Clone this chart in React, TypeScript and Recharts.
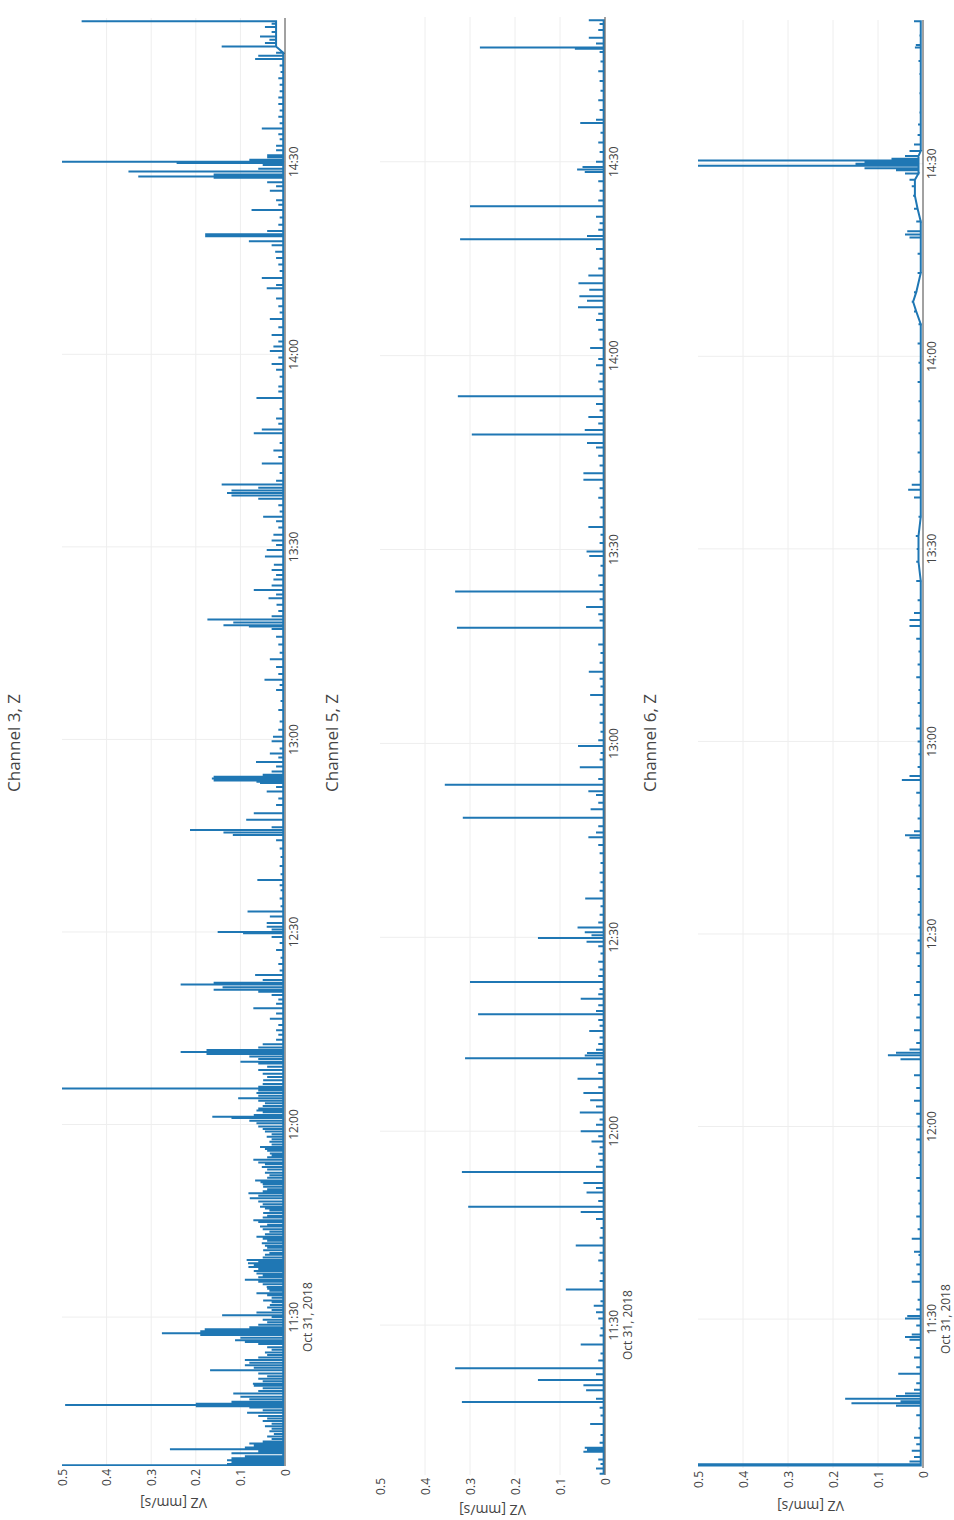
import { LineChart, Line, XAxis, YAxis, CartesianGrid, Label } from "recharts"

// the reference is a plotly page turned on its side; charts are drawn upright and rotated
const FONT = '"Open Sans", verdana, arial, sans-serif'
const PAGE_W = 954
const PAGE_H = 1520
const PANEL_H = 318
const PLOT_TOP = 62

// minutes after 11:00
const timeTicks = [30, 60, 90, 120, 150, 180, 210]
const valueTicks = [0, 0.1, 0.2, 0.3, 0.4, 0.5]
const gridValues = [0.1, 0.2, 0.3, 0.4]
const timeRange: [number, number] = [6.8, 232.4]
const dateLabel = "Oct 31, 2018"
const yTitle = "VZ [mm/s]"
const titles = ["Channel 3, Z", "Channel 5, Z", "Channel 6, Z"]

// [minute, peak mm/s]
const ch3Spikes = [
    [6.9, 0.5], [7.1, 0.13], [7.4, 0.12], [7.7, 0.13], [8.0, 0.12], [8.3, 0.09], [8.8, 0.12], [9.1, 0.06], [9.4, 0.258], [9.7, 0.09],
    [10.0, 0.07], [10.3, 0.08], [10.6, 0.05], [11.0, 0.03], [11.4, 0.04], [11.8, 0.025], [12.2, 0.035], [12.6, 0.03], [13.0, 0.045], [13.4, 0.03],
    [13.8, 0.05], [14.2, 0.04], [14.6, 0.06], [15.1, 0.085], [15.5, 0.05], [15.9, 0.08], [16.1, 0.2], [16.3, 0.493], [16.5, 0.2], [16.8, 0.12],
    [17.2, 0.08], [17.6, 0.1], [18.1, 0.116], [18.5, 0.06], [18.9, 0.05], [19.3, 0.07], [19.6, 0.072], [20.0, 0.05], [20.4, 0.06], [20.8, 0.04],
    [21.2, 0.06], [21.7, 0.168], [22.1, 0.07], [22.5, 0.09], [22.9, 0.08], [23.3, 0.09], [23.7, 0.06], [24.1, 0.04], [24.5, 0.045], [24.9, 0.03],
    [25.3, 0.04], [25.8, 0.06], [26.1, 0.09], [26.4, 0.112], [26.8, 0.1], [27.2, 0.19], [27.5, 0.276], [27.8, 0.19], [28.1, 0.18], [28.4, 0.08],
    [28.8, 0.06], [29.2, 0.04], [29.6, 0.05], [30.0, 0.03], [30.3, 0.141], [30.7, 0.064], [31.1, 0.03], [31.5, 0.04], [31.9, 0.034], [32.3, 0.03],
    [32.6, 0.049], [33.0, 0.03], [33.4, 0.04], [33.7, 0.064], [34.1, 0.035], [34.4, 0.04], [34.7, 0.041], [35.1, 0.05], [35.5, 0.06], [35.8, 0.09],
    [36.2, 0.06], [36.5, 0.05], [36.8, 0.064], [37.2, 0.07], [37.5, 0.06], [37.8, 0.082], [38.1, 0.07], [38.4, 0.083], [38.7, 0.06], [38.9, 0.086],
    [39.3, 0.05], [39.7, 0.045], [40.0, 0.035], [40.4, 0.049], [40.8, 0.04], [41.1, 0.045], [41.5, 0.052], [41.9, 0.04], [42.2, 0.05], [42.5, 0.064],
    [42.9, 0.045], [43.3, 0.035], [43.7, 0.05], [44.1, 0.056], [44.4, 0.04], [44.8, 0.06], [45.1, 0.071], [45.5, 0.05], [45.8, 0.04], [46.2, 0.049],
    [46.6, 0.035], [46.9, 0.045], [47.2, 0.056], [47.6, 0.05], [48.0, 0.06], [48.5, 0.079], [48.9, 0.06], [49.3, 0.082], [49.6, 0.05], [49.9, 0.04],
    [50.3, 0.049], [50.7, 0.05], [51.0, 0.055], [51.3, 0.067], [51.7, 0.04], [52.1, 0.035], [52.5, 0.045], [53.0, 0.04], [53.4, 0.052], [53.8, 0.045],
    [54.1, 0.06], [54.5, 0.071], [54.9, 0.04], [55.2, 0.03], [55.5, 0.034], [55.9, 0.04], [56.2, 0.045], [56.5, 0.056], [56.9, 0.03], [57.3, 0.035],
    [57.7, 0.03], [58.1, 0.041], [58.5, 0.03], [58.9, 0.045], [59.3, 0.05], [59.7, 0.06], [60.2, 0.064], [60.6, 0.08], [61.0, 0.12], [61.2, 0.163],
    [61.5, 0.07], [61.9, 0.05], [62.2, 0.064], [62.5, 0.06], [62.9, 0.05], [63.3, 0.045], [63.7, 0.06], [64.1, 0.105], [64.5, 0.06], [64.9, 0.064],
    [65.3, 0.06], [65.6, 0.5], [65.9, 0.06], [66.3, 0.05], [66.9, 0.049], [67.4, 0.04], [67.9, 0.05], [68.5, 0.06], [69.0, 0.04], [69.5, 0.06],
    [69.8, 0.1], [70.2, 0.06], [70.6, 0.08], [71.0, 0.176], [71.3, 0.234], [71.6, 0.176], [72.0, 0.06], [72.5, 0.05], [73.2, 0.02], [74.0, 0.015],
    [74.7, 0.02], [75.5, 0.015], [76.5, 0.034], [77.3, 0.02], [78.1, 0.071], [78.8, 0.02], [79.5, 0.015], [80.2, 0.03], [80.7, 0.06], [81.0, 0.16],
    [81.4, 0.14], [81.8, 0.234], [82.1, 0.16], [82.5, 0.05], [83.3, 0.067], [84.0, 0.012], [85.0, 0.015], [86.0, 0.01], [87.2, 0.02], [88.3, 0.012],
    [89.2, 0.03], [89.8, 0.094], [90.0, 0.151], [90.4, 0.03], [90.8, 0.041], [91.4, 0.041], [92.4, 0.034], [93.2, 0.084], [94.0, 0.01], [95.2, 0.012],
    [96.5, 0.01], [97.3, 0.012], [98.1, 0.062], [99.0, 0.01], [100.3, 0.012], [101.7, 0.01], [103.0, 0.012], [104.3, 0.02], [105.1, 0.117], [105.5, 0.138],
    [105.9, 0.213], [106.3, 0.03], [107.5, 0.087], [108.5, 0.07], [109.8, 0.02], [110.8, 0.015], [111.9, 0.041], [112.6, 0.02], [113.2, 0.056], [113.4, 0.064],
    [113.6, 0.16], [113.9, 0.164], [114.2, 0.16], [114.5, 0.05], [115.0, 0.03], [115.8, 0.02], [116.5, 0.065], [117.2, 0.015], [117.8, 0.034], [118.6, 0.012],
    [119.7, 0.03], [120.4, 0.027], [121.5, 0.015], [122.8, 0.012], [124.6, 0.015], [126.0, 0.01], [127.7, 0.02], [128.5, 0.012], [129.3, 0.046], [130.2, 0.015],
    [131.3, 0.02], [132.5, 0.034], [133.5, 0.012], [134.8, 0.015], [136.0, 0.02], [137.2, 0.03], [137.6, 0.081], [137.8, 0.138], [138.2, 0.116], [138.7, 0.174],
    [139.2, 0.03], [140.0, 0.015], [141.0, 0.019], [142.0, 0.037], [142.6, 0.02], [143.3, 0.07], [144.0, 0.03], [144.9, 0.026], [145.6, 0.02], [146.4, 0.03],
    [147.2, 0.025], [148.5, 0.045], [149.5, 0.041], [150.3, 0.02], [151.0, 0.03], [151.9, 0.026], [153.0, 0.015], [154.0, 0.02], [154.7, 0.049], [155.5, 0.012],
    [156.5, 0.015], [157.5, 0.06], [158.0, 0.12], [158.4, 0.13], [158.8, 0.12], [159.2, 0.06], [159.7, 0.142], [160.3, 0.02], [161.5, 0.012], [163.0, 0.052],
    [164.0, 0.015], [165.0, 0.026], [166.2, 0.012], [167.7, 0.07], [168.3, 0.052], [169.2, 0.015], [170.0, 0.02], [171.5, 0.012], [173.2, 0.064], [174.2, 0.015],
    [175.0, 0.015], [176.5, 0.012], [177.6, 0.02], [178.5, 0.03], [179.5, 0.015], [180.5, 0.034], [181.2, 0.026], [182.0, 0.015], [183.0, 0.03], [184.2, 0.015],
    [185.5, 0.034], [186.5, 0.012], [187.5, 0.015], [188.7, 0.02], [190.3, 0.041], [190.8, 0.02], [191.9, 0.052], [193.0, 0.012], [194.0, 0.015], [195.0, 0.02],
    [196.0, 0.022], [197.0, 0.03], [197.6, 0.081], [198.4, 0.179], [198.7, 0.179], [199.2, 0.04], [200.2, 0.015], [201.3, 0.012], [202.5, 0.075], [203.3, 0.015],
    [204.0, 0.02], [205.5, 0.034], [206.2, 0.02], [206.8, 0.04], [207.5, 0.16], [207.7, 0.329], [208.0, 0.16], [208.5, 0.351], [208.9, 0.06], [209.5, 0.05],
    [209.8, 0.243], [210.0, 0.5], [210.3, 0.08], [210.7, 0.04], [211.0, 0.04], [211.8, 0.02], [212.5, 0.02], [213.5, 0.012], [214.3, 0.015], [215.2, 0.052],
    [216.0, 0.012], [217.0, 0.015], [218.0, 0.012], [219.0, 0.015], [220.0, 0.015], [221.0, 0.012], [222.0, 0.012], [223.0, 0.015], [224.0, 0.01], [225.0, 0.012],
    [226.0, 0.067], [226.5, 0.06], [227.0, 0.02], [227.96, 0.142], [228.5, 0.045], [229.0, 0.035], [229.5, 0.056], [230.2, 0.03], [231.0, 0.045], [231.5, 0.03],
    [231.9, 0.456],
]
// [from minute, resting level]
const ch3Floor = [[0, 0.004], [227.8, 0.02]]

const ch5Spikes = [
    [7.0, 0.012], [7.8, 0.02], [8.5, 0.01], [9.2, 0.015], [10.4, 0.048], [10.7, 0.04], [11.0, 0.045], [11.8, 0.012], [13.0, 0.01], [14.7, 0.033],
    [16.0, 0.01], [17.2, 0.012], [18.1, 0.318], [18.6, 0.02], [19.9, 0.042], [20.7, 0.048], [21.5, 0.149], [22.4, 0.02], [23.3, 0.333], [24.5, 0.015],
    [25.6, 0.01], [27.0, 0.054], [28.4, 0.012], [29.5, 0.01], [31.0, 0.015], [32.0, 0.02], [33.0, 0.025], [33.7, 0.01], [35.5, 0.087], [36.8, 0.012],
    [38.0, 0.01], [40.0, 0.015], [41.2, 0.012], [42.3, 0.065], [43.5, 0.012], [45.0, 0.01], [46.4, 0.02], [47.5, 0.054], [48.3, 0.304], [49.2, 0.015],
    [50.5, 0.041], [51.2, 0.02], [52.0, 0.048], [53.7, 0.318], [54.5, 0.02], [55.5, 0.012], [56.5, 0.015], [57.5, 0.012], [58.4, 0.03], [59.2, 0.015],
    [60.0, 0.054], [61.0, 0.02], [61.8, 0.012], [62.9, 0.056], [63.8, 0.02], [64.8, 0.033], [65.9, 0.048], [66.8, 0.015], [68.1, 0.061], [69.0, 0.015],
    [70.3, 0.02], [71.3, 0.311], [71.7, 0.045], [72.1, 0.04], [72.6, 0.02], [73.5, 0.015], [74.5, 0.012], [75.5, 0.035], [76.3, 0.012], [77.2, 0.015],
    [78.1, 0.282], [78.6, 0.02], [79.5, 0.015], [80.5, 0.054], [81.2, 0.015], [82.0, 0.012], [83.1, 0.3], [84.0, 0.015], [85.0, 0.012], [86.2, 0.015],
    [87.5, 0.01], [88.6, 0.015], [89.3, 0.041], [89.9, 0.149], [90.3, 0.03], [90.8, 0.045], [91.5, 0.061], [92.3, 0.015], [93.5, 0.012], [94.8, 0.01],
    [96.0, 0.044], [97.2, 0.012], [98.5, 0.01], [100.0, 0.012], [101.5, 0.01], [103.0, 0.012], [104.3, 0.015], [105.5, 0.037], [106.2, 0.02], [107.2, 0.015],
    [108.5, 0.316], [109.8, 0.032], [110.8, 0.015], [112.0, 0.02], [112.6, 0.037], [113.6, 0.356], [114.5, 0.015], [116.3, 0.056], [117.5, 0.012], [118.5, 0.01],
    [119.6, 0.06], [120.5, 0.015], [121.8, 0.01], [123.2, 0.012], [124.5, 0.01], [126.0, 0.012], [127.5, 0.033], [128.8, 0.01], [130.0, 0.012], [131.1, 0.036],
    [132.5, 0.012], [134.0, 0.01], [135.3, 0.015], [137.9, 0.329], [139.0, 0.012], [140.0, 0.015], [141.1, 0.042], [142.3, 0.012], [143.5, 0.333], [144.5, 0.012],
    [146.0, 0.015], [147.5, 0.01], [149.0, 0.035], [149.7, 0.041], [151.0, 0.012], [152.3, 0.01], [153.5, 0.037], [155.0, 0.012], [156.5, 0.01], [158.0, 0.015],
    [159.5, 0.012], [160.8, 0.048], [161.8, 0.048], [163.0, 0.012], [164.5, 0.015], [165.8, 0.02], [166.5, 0.04], [167.8, 0.296], [168.5, 0.045], [169.5, 0.015],
    [170.5, 0.037], [171.5, 0.012], [172.5, 0.02], [173.7, 0.327], [174.8, 0.012], [176.0, 0.015], [177.2, 0.012], [178.5, 0.02], [179.5, 0.015], [181.2, 0.033],
    [182.5, 0.012], [184.0, 0.015], [185.5, 0.02], [186.5, 0.015], [187.5, 0.06], [188.5, 0.04], [189.2, 0.057], [190.2, 0.035], [191.2, 0.059], [192.4, 0.037],
    [193.5, 0.015], [195.0, 0.012], [196.5, 0.02], [198.0, 0.322], [198.5, 0.04], [199.5, 0.015], [200.5, 0.012], [201.5, 0.02], [203.1, 0.3], [204.0, 0.015],
    [205.5, 0.012], [207.0, 0.015], [208.4, 0.045], [208.8, 0.062], [209.2, 0.05], [210.0, 0.02], [211.5, 0.012], [213.0, 0.015], [214.5, 0.01], [216.0, 0.055],
    [216.5, 0.02], [218.0, 0.012], [219.5, 0.015], [221.0, 0.01], [222.5, 0.012], [224.0, 0.015], [225.5, 0.01], [227.0, 0.012], [227.5, 0.067], [227.7, 0.278],
    [228.3, 0.02], [229.2, 0.036], [230.4, 0.015], [231.3, 0.012], [231.9, 0.036],
]
const ch5Floor = [[0, 0.003]]

const ch6Spikes = [
    [7.2, 0.5], [7.4, 0.5], [7.8, 0.03], [8.5, 0.02], [9.5, 0.025], [10.5, 0.015], [11.5, 0.02], [13.0, 0.01], [15.0, 0.015], [16.5, 0.06],
    [16.9, 0.159], [17.2, 0.05], [17.6, 0.173], [18.0, 0.06], [18.4, 0.04], [19.0, 0.02], [20.0, 0.015], [21.5, 0.055], [22.5, 0.015], [24.0, 0.02],
    [25.5, 0.015], [26.8, 0.03], [27.2, 0.04], [27.6, 0.025], [29.0, 0.015], [30.1, 0.04], [30.5, 0.035], [31.5, 0.015], [33.0, 0.012], [35.8, 0.025],
    [37.0, 0.012], [38.5, 0.015], [40.0, 0.01], [40.5, 0.02], [42.5, 0.025], [44.0, 0.012], [46.0, 0.015], [48.0, 0.01], [50.0, 0.012], [52.0, 0.015],
    [54.0, 0.01], [56.0, 0.012], [58.0, 0.015], [60.0, 0.012], [62.0, 0.015], [64.0, 0.02], [66.0, 0.015], [68.0, 0.02], [70.5, 0.05], [71.1, 0.078],
    [71.5, 0.06], [72.0, 0.03], [73.0, 0.015], [75.0, 0.02], [77.0, 0.015], [79.0, 0.012], [80.5, 0.02], [82.5, 0.015], [85.0, 0.012], [87.0, 0.015],
    [89.0, 0.012], [91.0, 0.01], [93.0, 0.012], [95.0, 0.01], [97.0, 0.012], [99.0, 0.015], [101.0, 0.01], [103.0, 0.012], [105.0, 0.03], [105.4, 0.04],
    [106.0, 0.02], [108.0, 0.012], [110.0, 0.01], [112.0, 0.015], [114.0, 0.047], [114.6, 0.03], [116.0, 0.012], [118.0, 0.01], [120.0, 0.012], [122.0, 0.015],
    [124.0, 0.01], [126.0, 0.012], [128.0, 0.01], [130.0, 0.015], [132.0, 0.012], [134.0, 0.01], [136.0, 0.015], [138.0, 0.03], [138.9, 0.03], [140.0, 0.02],
    [142.0, 0.012], [145.0, 0.015], [148.0, 0.015], [150.0, 0.014], [152.0, 0.016], [155.0, 0.01], [158.0, 0.02], [159.2, 0.033], [160.0, 0.025], [162.0, 0.01],
    [165.0, 0.012], [168.0, 0.01], [170.0, 0.012], [173.0, 0.01], [176.0, 0.012], [179.0, 0.01], [182.0, 0.012], [185.0, 0.01], [187.0, 0.02], [188.5, 0.025],
    [190.0, 0.02], [193.0, 0.012], [196.0, 0.012], [198.5, 0.03], [199.0, 0.04], [199.5, 0.035], [201.0, 0.015], [203.0, 0.02], [205.0, 0.022], [206.5, 0.025],
    [207.5, 0.03], [208.5, 0.04], [209.0, 0.06], [209.3, 0.13], [209.7, 0.5], [210.0, 0.15], [210.2, 0.13], [210.5, 0.5], [210.8, 0.07], [211.2, 0.04],
    [212.0, 0.03], [213.0, 0.02], [214.5, 0.012], [216.1, 0.011], [218.0, 0.008], [221.0, 0.008], [224.0, 0.008], [226.0, 0.01], [228.1, 0.018], [228.5, 0.016],
    [230.0, 0.008], [232.2, 0.02],
]
const ch6Floor = [[0, 0.005], [148, 0.01], [154, 0.005], [186.5, 0.015], [188, 0.022], [189.5, 0.015], [191, 0.005], [201.5, 0.012], [205, 0.018], [208, 0.01], [212, 0.005]]

// layout of each panel (plot left edge, right margin, x-axis band, y title offset)
const panelLayout = [
    { left: 54, right: 18, bottom: 33, titleGap: 37 },
    { left: 45, right: 17, bottom: 31, titleGap: 35 },
    { left: 52, right: 20, bottom: 31, titleGap: 38 },
]

const buildSeries = (spikes: number[][], floor: number[][]) => {
    const floorAt = (t: number) => {
        let lv = floor[0][1]
        for (const [from, level] of floor) if (t >= from) lv = level
        return lv
    }
    const rows: { t: number; v: number }[] = []
    for (const [t, peak] of spikes) {
        const f = floorAt(t)
        rows.push({ t, v: f }, { t, v: peak }, { t, v: f })
    }
    return rows
}

const panels = [
    buildSeries(ch3Spikes, ch3Floor),
    buildSeries(ch5Spikes, ch5Floor),
    buildSeries(ch6Spikes, ch6Floor),
]

const fmtTime = (m: number) => {
    const h = 11 + Math.floor(m / 60)
    const mm = m % 60
    return `${h}:${mm < 10 ? "0" + mm : mm}`
}

function Panel({ idx }: { idx: number }) {
    const lay = panelLayout[idx]
    const plotBottom = PANEL_H - lay.bottom
    const plotH = plotBottom - PLOT_TOP

    const TimeTick = (p: any) => (
        <g>
            <text x={p.x} y={plotBottom + 8} textAnchor="middle" dominantBaseline="central" fontSize={12} fill="#444" fontFamily={FONT}>
                {fmtTime(p.payload.value)}
            </text>
            {p.payload.value === timeTicks[0] && (
                <text x={p.x} y={plotBottom + 22} textAnchor="middle" dominantBaseline="central" fontSize={12} fill="#444" fontFamily={FONT}>
                    {dateLabel}
                </text>
            )}
        </g>
    )

    const ValueTick = (p: any) => (
        <text x={lay.left - 3} y={p.y} textAnchor="end" dominantBaseline="central" fontSize={12} fill="#444" fontFamily={FONT}>
            {String(p.payload.value)}
        </text>
    )

    return (
        <div style={{ position: "relative", width: PAGE_H, height: PANEL_H }}>
            <div
                style={{
                    position: "absolute",
                    left: 577,
                    width: 400,
                    top: 3,
                    lineHeight: "22px",
                    textAlign: "center",
                    fontFamily: FONT,
                    fontSize: 17,
                    color: "#444",
                }}
            >
                {titles[idx]}
            </div>
            <LineChart width={PAGE_H} height={PANEL_H} data={panels[idx]} margin={{ top: PLOT_TOP, right: lay.right, bottom: 0, left: 0 }}>
                <CartesianGrid stroke="#eee" horizontalValues={gridValues} verticalValues={timeTicks} />
                <XAxis
                    dataKey="t"
                    type="number"
                    domain={timeRange}
                    allowDataOverflow
                    ticks={timeTicks}
                    interval={0}
                    height={lay.bottom}
                    tickLine={false}
                    axisLine={{ stroke: "#444", strokeWidth: 1 }}
                    tick={TimeTick}
                />
                <YAxis
                    type="number"
                    domain={[0, 0.5]}
                    allowDataOverflow
                    ticks={valueTicks}
                    interval={0}
                    width={lay.left}
                    tickLine={false}
                    axisLine={false}
                    tick={ValueTick}
                >
                    <Label
                        content={() => (
                            <text
                                transform={`translate(${lay.left - lay.titleGap}, ${PLOT_TOP + plotH / 2}) rotate(-90)`}
                                textAnchor="middle"
                                dominantBaseline="central"
                                fontSize={14}
                                fill="#444"
                                fontFamily={FONT}
                            >
                                {yTitle}
                            </text>
                        )}
                    />
                </YAxis>
                <Line type="linear" dataKey="v" stroke="#1f77b4" strokeWidth={2} dot={false} isAnimationActive={false} />
            </LineChart>
        </div>
    )
}

export default function App() {
    return (
        <div style={{ position: "absolute", left: 0, top: 0, width: PAGE_W, height: PAGE_H, overflow: "hidden", background: "#fff" }}>
            <div
                style={{
                    position: "absolute",
                    left: 0,
                    top: 0,
                    width: PAGE_H,
                    height: PAGE_W,
                    transformOrigin: "0 0",
                    transform: `translateY(${PAGE_H}px) rotate(-90deg)`,
                }}
            >
                {[0, 1, 2].map((i) => (
                    <Panel key={i} idx={i} />
                ))}
            </div>
        </div>
    )
}
